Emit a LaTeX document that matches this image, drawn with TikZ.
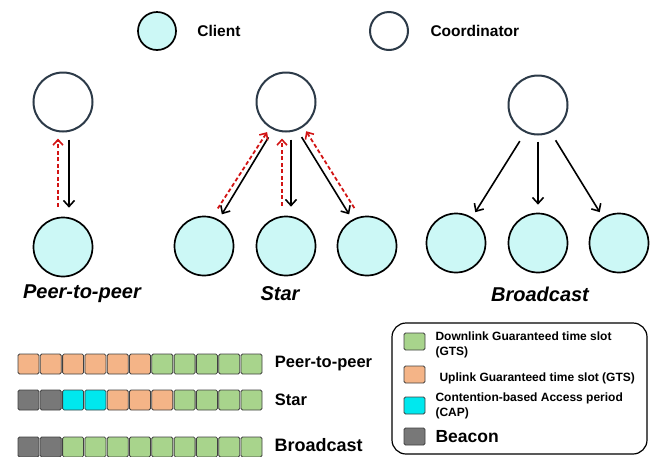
\documentclass[tikz,border=0pt]{standalone}
\usepackage{fontspec}
\setmainfont{Liberation Sans}
\usetikzlibrary{positioning,arrows.meta}

\definecolor{clientfill}{RGB}{204,248,246}
\definecolor{coordedge}{RGB}{44,58,72}
\definecolor{upred}{RGB}{210,20,20}
\definecolor{dnl}{RGB}{168,212,140}
\definecolor{upl}{RGB}{244,180,135}
\definecolor{cap}{RGB}{0,232,238}
\definecolor{bcn}{RGB}{120,120,120}

\tikzset{
  client/.style={circle,draw=black,line width=1.7pt,fill=clientfill,minimum size=59pt,inner sep=0pt},
  coord/.style={circle,draw=coordedge,line width=2pt,fill=white,minimum size=59pt,inner sep=0pt},
  dnarrow/.style={->,>={Straight Barb[length=6pt,width=11pt,line width=1.6pt]},line width=1.6pt},
  uparrow/.style={->,>={Straight Barb[length=5.5pt,width=10pt,line width=1.6pt]},draw=upred,line width=1.8pt,dash pattern=on 4pt off 2.5pt},
  slot/.style={draw=black!75,line width=0.8pt,rounded corners=1.5pt,minimum width=21pt,minimum height=20pt,inner sep=0pt},
  key/.style={draw=black!75,line width=0.8pt,rounded corners=1.5pt,minimum width=21pt,minimum height=17pt,inner sep=0pt},
  toplbl/.style={font=\bfseries\fontsize{15.5}{18}\selectfont},
  toplabel/.style={font=\bfseries\itshape\fontsize{20}{24}\selectfont},
  barlbl/.style={font=\bfseries\fontsize{16.5}{20}\selectfont,anchor=west},
  keytxt/.style={font=\bfseries\fontsize{12}{15}\selectfont,anchor=west,align=left}
}

\begin{document}
\begin{tikzpicture}[x=1pt,y=-1pt]
    \useasboundingbox (0,0) rectangle (650,456);

    \node[client,minimum size=38pt] (lgCl) at (157,31) {};
    \node[toplbl,right=17pt of lgCl] (lgClT) {Client};
    \node[coord,minimum size=38pt] (lgCo) at (389,31) {};
    \node[toplbl,right=18pt of lgCo] (lgCoT) {Coordinator};

    \node[coord] (pCo) at (63,102) {};
    \node[client] (pCl) at (63,247) {};
    \draw[dnarrow,shorten <=7pt,shorten >=9pt] ([xshift=6pt]pCo.south) -- ([xshift=6pt]pCl.north);
    \draw[uparrow,shorten <=10pt,shorten >=6pt] ([xshift=-5pt]pCl.north) -- ([xshift=-5pt]pCo.south);
    \node[toplabel] (pLbl) at (82,294) {Peer-to-peer};

    \node[coord] (sCo) at (286,102) {};
    \node[client] (sL) at (204,246) {};
    \node[client] (sM) at (286,246) {};
    \node[client] (sR) at (367,246) {};
    \draw[dnarrow,shorten <=9pt,shorten >=6pt] (sCo.245) -- (sL.61);
    \draw[uparrow,shorten <=10pt,shorten >=5pt] (sL.74) -- (sCo.238);
    \draw[dnarrow,shorten <=7pt,shorten >=9pt] ([xshift=5pt]sCo.south) -- ([xshift=5pt]sM.north);
    \draw[uparrow,shorten <=10pt,shorten >=6pt] ([xshift=-4pt]sM.north) -- ([xshift=-4pt]sCo.south);
    \draw[dnarrow,shorten <=8pt,shorten >=6pt] (sCo.-68) -- (sR.119);
    \draw[uparrow,shorten <=10pt,shorten >=5pt] (sR.104) -- (sCo.-55);
    \node[toplabel] (sLbl) at (280,294) {Star};

    \node[coord] (bCo) at (538,105) {};
    \node[client] (bL) at (456,243) {};
    \node[client] (bM) at (538,243) {};
    \node[client] (bR) at (619,243) {};
    \draw[dnarrow,shorten <=10pt,shorten >=6pt] (bCo.245) -- (bL.58);
    \draw[dnarrow,shorten <=6pt,shorten >=8pt] (bCo.south) -- (bM.north);
    \draw[dnarrow,shorten <=9pt,shorten >=6pt] (bCo.-65) -- (bR.122);
    \node[toplabel] (bLbl) at (540,294) {Broadcast};

    \foreach \c [count=\i] in {upl,upl,upl,upl,upl,upl,dnl,dnl,dnl,dnl,dnl}
      \node[slot,fill=\c] (pp\i) at ({28.5+22.3*(\i-1)},364) {};
    \foreach \c [count=\i] in {bcn,bcn,cap,cap,upl,upl,upl,dnl,dnl,dnl,dnl}
      \node[slot,fill=\c] (st\i) at ({28.5+22.3*(\i-1)},400) {};
    \foreach \c [count=\i] in {bcn,bcn,dnl,dnl,dnl,dnl,dnl,dnl,dnl,dnl,dnl}
      \node[slot,fill=\c] (bc\i) at ({28.5+22.3*(\i-1)},447) {};
    \node[barlbl,right=9pt of pp11] (ppT) {Peer-to-peer};
    \node[barlbl,right=9pt of st11] (stT) {Star};
    \node[barlbl,font=\bfseries\fontsize{18}{20}\selectfont,inner sep=1pt,right=11pt of bc11,yshift=1.5pt] (bcT) {Broadcast};

    \node[draw,line width=1.2pt,rounded corners=14pt,minimum width=255pt,minimum height=131pt] (lgBox) at (519.5,388.5) {};
    \node[key,fill=dnl] (kDn) at (414.5,341.5) {};
    \node[key,fill=upl] (kUp) at (414.5,374.5) {};
    \node[key,fill=cap] (kCap) at (414.5,405.5) {};
    \node[key,fill=bcn] (kBcn) at (414.5,436.5) {};
    \node[keytxt] (kDnT) at (432,344.5) {Downlink Guaranteed time slot\\(GTS)};
    \node[keytxt] (kUpT) at (436,378) {Uplink Guaranteed time slot (GTS)};
    \node[keytxt] (kCapT) at (432,406) {Contention-based Access period\\(CAP)};
    \node[keytxt,font=\bfseries\fontsize{17.5}{20}\selectfont] (kBcnT) at (432,437) {Beacon};
\end{tikzpicture}
\end{document}
